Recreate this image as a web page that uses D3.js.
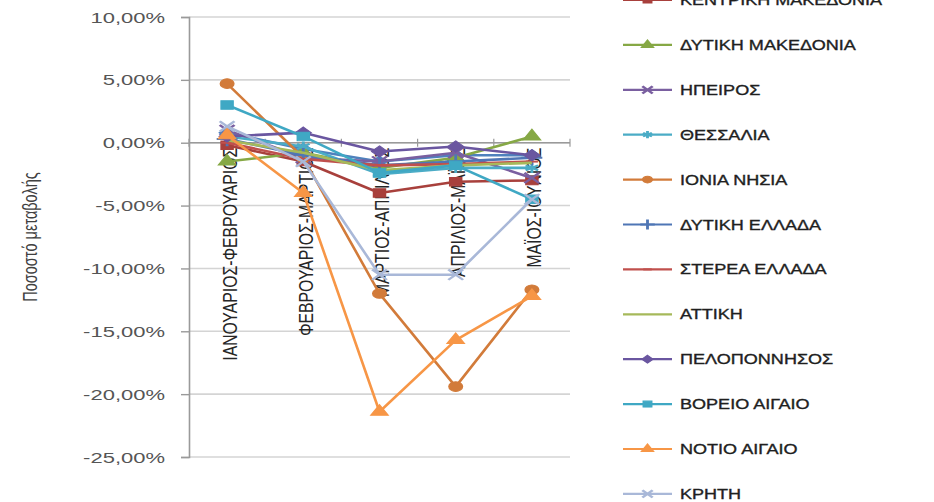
<!DOCTYPE html>
<html><head><meta charset="utf-8">
<script src="https://cdn.jsdelivr.net/npm/d3@7"></script>
<style>
html,body{margin:0;padding:0;background:#fff;}
svg{display:block;font-family:"Liberation Sans",Arial,sans-serif;}
</style></head>
<body>
<svg id="chart" width="934" height="502"></svg>
<script>
// ---- data ----
const categories = ["ΙΑΝΟΥΑΡΙΟΣ-ΦΕΒΡΟΥΑΡΙΟΣ","ΦΕΒΡΟΥΑΡΙΟΣ-ΜΑΡΤΙΟΣ","ΜΑΡΤΙΟΣ-ΑΠΡΙΛΙΟΣ","ΑΠΡΙΛΙΟΣ-ΜΑΪΟΣ","ΜΑΪΟΣ-ΙΟΥΝΙΟΣ"];
const regionNames = ["ΑΝΑΤΟΛΙΚΗ ΜΑΚΕΔΟΝΙΑ ΚΑΙ ΘΡΑΚΗ","ΚΕΝΤΡΙΚΗ ΜΑΚΕΔΟΝΙΑ","ΔΥΤΙΚΗ ΜΑΚΕΔΟΝΙΑ","ΗΠΕΙΡΟΣ","ΘΕΣΣΑΛΙΑ","ΙΟΝΙΑ ΝΗΣΙΑ","ΔΥΤΙΚΗ ΕΛΛΑΔΑ","ΣΤΕΡΕΑ ΕΛΛΑΔΑ","ΑΤΤΙΚΗ","ΠΕΛΟΠΟΝΝΗΣΟΣ","ΒΟΡΕΙΟ ΑΙΓΑΙΟ","ΝΟΤΙΟ ΑΙΓΑΙΟ","ΚΡΗΤΗ"];
const eastMacedoniaThrace = [0.008, -0.005, -0.015, -0.010, -0.010];
const centralMacedonia    = [-0.002, -0.015, -0.040, -0.031, -0.030];
const westMacedonia       = [-0.015, -0.008, -0.020, -0.012, 0.005];
const epirus              = [0.010, -0.012, -0.015, -0.008, -0.028];
const thessaly            = [0.005, -0.003, -0.025, -0.020, -0.020];
const ionianIslands       = [0.047, -0.012, -0.120, -0.194, -0.117];
const westernGreece       = [0.003, -0.010, -0.018, -0.015, -0.012];
const centralGreece       = [0.000, -0.013, -0.018, -0.017, -0.015];
const attica              = [0.002, -0.008, -0.022, -0.018, -0.016];
const peloponnese         = [0.005, 0.008, -0.007, -0.003, -0.010];
const northAegean         = [0.030, 0.005, -0.024, -0.018, -0.045];
const southAegean         = [0.006, -0.040, -0.214, -0.157, -0.122];
const crete               = [0.013, -0.015, -0.105, -0.105, -0.045];
const seriesValues = [eastMacedoniaThrace, centralMacedonia, westMacedonia, epirus, thessaly, ionianIslands,
  westernGreece, centralGreece, attica, peloponnese, northAegean, southAegean, crete];
const yTicks = [0.10, 0.05, 0, -0.05, -0.10, -0.15, -0.20, -0.25];
const yTitle = "Ποσοστό μεταβολής";

// ---- styles ----
const colors = ["#4F81BD","#A8403C","#86A845","#7A5FA0","#4BACC6","#D27B3A","#4F76B5","#C0504D","#A6B95A","#6A56A0","#3FA8C4","#F79646","#A9B8D8"];
const markerKinds = ["diamond","square","triangle","times","asterisk","circle","plus","dash","none","diamond","square","triangle","times"];

const series = regionNames.map((name,i)=>({name, color:colors[i], marker:markerKinds[i],
  values: seriesValues[i].map((v,j)=>({cat:categories[j], v}))}));

const svg = d3.select("#chart");
const x = d3.scaleBand().domain(categories).range([189,570]);
const y = d3.scaleLinear().domain([-0.25,0.10]).range([457,17]);
const locale = d3.formatLocale({decimal:",", thousands:".", grouping:[3], currency:["","€"], minus:"-"});
const fmt = locale.format(".2%");
const SX = 1.42; // horizontal stretch of the source image

// gridlines
svg.append("g").selectAll("line").data(yTicks).join("line")
  .attr("x1",189).attr("x2",570).attr("y1",d=>y(d)).attr("y2",d=>y(d))
  .attr("stroke","#d4d4d4").attr("stroke-width",1.6);

// y axis
const ya = svg.append("g").attr("transform","translate(189,0)")
  .call(d3.axisLeft(y).tickValues(yTicks).tickSize(8).tickFormat(""));
ya.select(".domain").attr("stroke","#9a9a9a").attr("stroke-width",1.6);
ya.selectAll(".tick line").attr("stroke","#9a9a9a").attr("stroke-width",1.4);
svg.append("g").selectAll("text").data(yTicks).join("text")
  .attr("transform",d=>`translate(165,${y(d)}) scale(${SX},1)`)
  .attr("text-anchor","end").attr("dy","0.36em")
  .attr("font-size",15.5).attr("fill","#555")
  .text(d=>fmt(d));

// x axis at 0
const xa = svg.append("g").attr("transform",`translate(0,${y(0)})`);
xa.append("line").attr("x1",189).attr("x2",570).attr("stroke","#9a9a9a").attr("stroke-width",1.6);
const bounds = categories.map(c=>x(c)).concat([x.range()[1]]);
xa.selectAll("line.t").data(bounds).join("line").attr("class","t")
  .attr("x1",d=>d).attr("x2",d=>d).attr("y1",-4).attr("y2",4)
  .attr("stroke","#9a9a9a").attr("stroke-width",1.2);
xa.selectAll("text").data(categories).join("text")
  .attr("transform",d=>`translate(${x(d)+x.bandwidth()/2+2},5) rotate(-90) scale(1,1.3)`)
  .attr("text-anchor","end").attr("dy","0.36em")
  .attr("font-size",15.8).attr("fill","#262626")
  .text(d=>d);

// y title
svg.append("text")
  .attr("transform","translate(30,237) rotate(-90) scale(1,1.4)")
  .attr("text-anchor","middle").attr("dy","0.36em")
  .attr("font-size",14.5).attr("fill","#404040").text(yTitle);

// markers
function markerPath(kind, s){
  switch(kind){
    case "diamond": return d3.symbol(d3.symbolDiamond2, s*s*1.1)();
    case "square": return d3.symbol(d3.symbolSquare, s*s)();
    case "triangle": return d3.symbol(d3.symbolTriangle, s*s*0.9)();
    case "times": return d3.symbol(d3.symbolTimes, s*s)();
    case "asterisk": return d3.symbol(d3.symbolAsterisk, s*s)();
    case "circle": return d3.symbol(d3.symbolCircle, s*s)();
    case "plus": return d3.symbol(d3.symbolPlus, s*s)();
    case "dash": return `M${-s/2},0H${s/2}`;
    default: return null;
  }
}
const strokeKinds = new Set(["times","asterisk","plus","dash"]);
function drawMarker(sel, d, s){
  const p = markerPath(d.marker, s);
  if(!p) return;
  sel.append("path").attr("d",p)
    .attr("fill", strokeKinds.has(d.marker)?"none":d.color)
    .attr("stroke", d.color).attr("stroke-width", strokeKinds.has(d.marker)?2:1);
}

// lines
const line = d3.line().x(d=>x(d.cat)+x.bandwidth()/2).y(d=>y(d.v));
const sg = svg.append("g").selectAll("g").data(series).join("g");
sg.append("path").attr("d",d=>line(d.values)).attr("fill","none")
  .attr("stroke",d=>d.color).attr("stroke-width",2.6).attr("stroke-linejoin","round");
sg.each(function(d){
  const g = d3.select(this);
  d.values.forEach(pt=>{
    const mg = g.append("g").attr("transform",`translate(${x(pt.cat)+x.bandwidth()/2},${y(pt.v)}) scale(${SX},1)`);
    drawMarker(mg, d, 8.5);
  });
});

// legend
const ly = d3.scalePoint().domain(regionNames).range([-44.9, 493.9]);
const lg = svg.append("g").selectAll("g").data(series).join("g")
  .attr("transform",d=>`translate(0,${ly(d.name)})`);
lg.append("line").attr("x1",623).attr("x2",672).attr("stroke",d=>d.color).attr("stroke-width",2.2);
lg.each(function(d){
  const mg = d3.select(this).append("g").attr("transform",`translate(647.5,0) scale(${SX},1)`);
  drawMarker(mg, d, 6);
});
lg.append("text").attr("transform",`translate(680,0) scale(1.29,1)`)
  .attr("dy","0.36em").attr("font-size",14).attr("fill","#1f1f1f")
  .attr("stroke","#1f1f1f").attr("stroke-width",0.35)
  .text(d=>d.name);
</script>
</body></html>
